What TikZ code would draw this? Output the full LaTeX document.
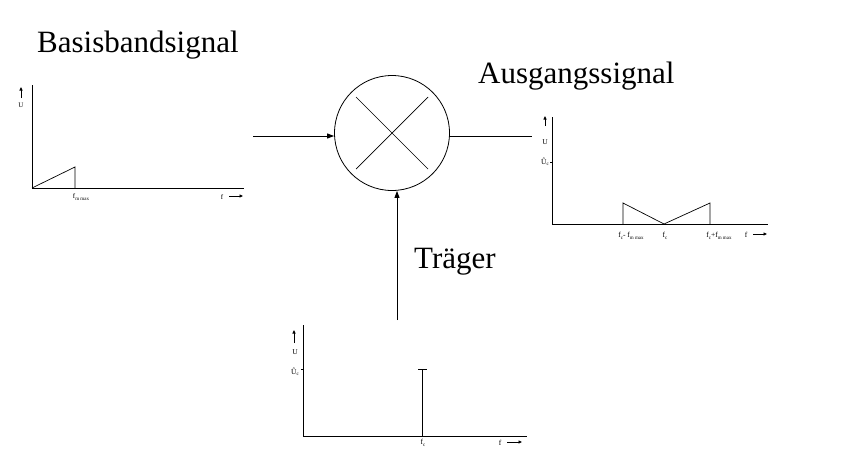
\documentclass[tikz,border=0pt]{standalone}
\usepackage{fontspec}
\setmainfont{Liberation Serif}
\usetikzlibrary{arrows.meta}
\newcommand{\lsub}[1]{\raisebox{-1.5pt}{\fontsize{5}{5}\selectfont #1}}
\begin{document}
\begin{tikzpicture}[x=1pt,y=-1pt,
  axis/.style={line width=0.9pt},
  sig/.style={line width=0.7pt},
  conn/.style={line width=0.9pt,-{Triangle[length=7pt,width=5pt]}},
  lbl/.style={font=\fontsize{7.5}{8}\selectfont, inner sep=0pt},
  lbls/.style={font=\fontsize{7}{8}\selectfont, inner sep=0pt},
  title/.style={font=\fontsize{31}{36}\selectfont, inner sep=0pt, anchor=base west},
  smallarrow/.style={line width=0.8pt,-{Triangle[length=3.5pt,width=3pt]}}]
\useasboundingbox (0,0) rectangle (859,466);
% titles
\node[title] (t1) at (37,52) {Basisbandsignal};
\node[title] (t2) at (478,83) {Ausgangssignal};
\node[title] (t3) at (414,268) {Träger};
% mixer
\node[circle, draw, line width=0.8pt, minimum size=115pt, inner sep=0pt] (mix) at (392,133) {};
\draw[line width=0.7pt] (mix.center) +(-36,-36) -- +(36,36);
\draw[line width=0.7pt] (mix.center) +(-36,36) -- +(36,-36);
\coordinate (in) at (253,136);
\coordinate (out) at (532,136);
\coordinate (tr) at (397,320);
\draw[conn] (in) -- (mix.west |- in);
\draw[axis] (mix.east |- out) -- (out);
\draw[conn] (tr) -- (tr |- mix.south);
% left plot
\draw[axis] (32,85) -- (32,188) -- (244,188);
\draw[sig] (32,188) -- (75,167) -- (75,188);
\draw[smallarrow] (21,98) -- (21,87);
\node[lbls] (lu) at (21,105) {U};
\node[lbls] (lfm) at (81,197) {f\lsub{m max}};
\node[lbls] (lf) at (222,197) {f};
\draw[smallarrow] (229,196) -- (243,196);
% right plot
\draw[axis] (552,117) -- (552,224) -- (768,224);
\draw[sig] (550,162) -- (552,162);
\draw[sig] (623,224) -- (623,203) -- (664,224) -- (710,203) -- (710,224);
\draw[smallarrow] (545,126) -- (545,116);
\node[lbl] (ru) at (545,142) {U};
\node[lbl] (ruc) at (545,162) {Û\lsub{c}};
\node[lbl] (rl1) at (631,236) {f\lsub{c}- f\lsub{m max}};
\node[lbl] (rl2) at (665,236) {f\lsub{c}};
\node[lbl] (rl3) at (719,236) {f\lsub{c}+f\lsub{m max}};
\node[lbl] (rf) at (746,235) {f};
\draw[smallarrow] (753,234) -- (767,234);
% bottom plot
\draw[axis] (303,325) -- (303,436) -- (527,436);
\draw[axis] (422,436) -- (422,369);
\draw[axis] (418,369) -- (427,369);
\draw[sig] (301,369) -- (303,369);
\draw[smallarrow] (294,343) -- (294,330);
\node[lbl] (bu) at (295,352) {U};
\node[lbl] (buc) at (295,372) {Û\lsub{c}};
\node[lbl] (bfc) at (423,443) {f\lsub{c}};
\node[lbl] (bf) at (500,443) {f};
\draw[smallarrow] (507,442) -- (522,442);
\end{tikzpicture}
\end{document}
